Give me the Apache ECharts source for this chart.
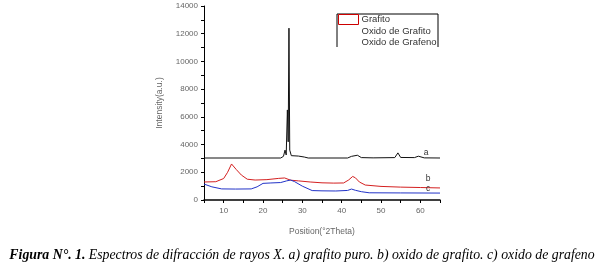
<!DOCTYPE html>
<html><head><meta charset="utf-8">
<script src="https://cdn.jsdelivr.net/npm/echarts@6/dist/echarts.min.js"></script>
<style>html,body{margin:0;padding:0;background:#fff}#c{width:604px;height:273px}</style>
</head><body><div id="c"></div>
<script>
const seriesNames = ['Grafito', 'Oxido de Grafito', 'Oxido de Grafeno'];
const curveLabels = ['a', 'b', 'c'];
const labelPos = [[61.5, 3450], [62, 1550], [62, 840]];
const grafito = [[5,3030],[24.5,3030],[25.2,3150],[25.6,3600],[25.9,3250],[26.2,6500],[26.4,4200],[26.6,12400],[26.8,3600],[27.2,3200],[29,3170],[30.5,3100],[31.5,3030],[41.5,3030],[42.5,3150],[44,3230],[45,3060],[48,3040],[53.5,3060],[54.3,3400],[55,3070],[58.5,3060],[59.5,3160],[61,3040],[65,3030]];
const oxidoGrafito = [[5,1300],[8,1320],[10,1550],[11,2000],[12,2600],[12.5,2740],[13.2,2200],[14.5,1800],[16,1500],[18,1440],[21,1470],[24,1560],[25.5,1590],[27,1430],[29,1380],[32,1300],[35,1240],[38,1220],[40.5,1230],[41.8,1450],[42.8,1700],[43.5,1600],[44.5,1300],[46,1080],[50,980],[55,930],[60,900],[65,870]];
const oxidoGrafeno = [[5,1150],[7,950],[9.5,800],[13,790],[17,800],[18.5,950],[20,1200],[22,1230],[24.5,1260],[26,1380],[27,1440],[28,1330],[30,1000],[32.5,680],[35,660],[38.5,650],[41.5,690],[42.5,790],[43.5,700],[45,600],[47,520],[55,510],[65,500]];
const xTicks = [10, 20, 30, 40, 50, 60];
const yTicks = [0, 2000, 4000, 6000, 8000, 10000, 12000, 14000];

const chart = echarts.init(document.getElementById('c'));
const txt = '#666';
const colors = ['#111', '#d42020', '#2233c8'];
const datasets = [grafito, oxidoGrafito, oxidoGrafeno];
chart.setOption({
  animation: false,
  backgroundColor: '#fff',
  grid: { left: 204, right: 164, top: 6, bottom: 73 },
  legend: {
    orient: 'vertical', left: 338, top: 14, itemGap: 1, itemWidth: 20, itemHeight: 10,
    padding: 0,
    textStyle: { fontFamily: 'Liberation Sans, Arial', fontSize: 9.5, color: '#333', padding: [0,0,0,-2] },
    data: [
      { name: seriesNames[0], icon: 'rect', itemStyle: { color: '#fff', borderColor: '#c00', borderWidth: 1 } },
      { name: seriesNames[1], icon: 'none' },
      { name: seriesNames[2], icon: 'none' }
    ]
  },
  graphic: [
    { type: 'polyline', shape: { points: [[337, 47], [337, 14], [438, 14], [438, 47]] }, style: { stroke: '#000', lineWidth: 1, fill: null } },
    { type: 'text', left: 'center', top: 248, style: { rich: {
        b: { fontFamily: 'Liberation Serif', fontStyle: 'italic', fontWeight: 'bold', fontSize: 13.8, fill: '#000' },
        n: { fontFamily: 'Liberation Serif', fontStyle: 'italic', fontSize: 13.8, fill: '#000' } },
        text: '{b|Figura N°. 1.} {n|Espectros de difracción de rayos X. a) grafito puro. b) oxido de grafito. c) oxido de grafeno}' } }
  ],
  xAxis: {
    type: 'value', min: 5, max: 65, interval: 5,
    name: 'Position(°2Theta)', nameLocation: 'middle', nameGap: 27,
    nameTextStyle: { fontFamily: 'Liberation Sans', fontSize: 8.5, color: txt },
    axisLine: { lineStyle: { color: '#000', width: 1.5 } },
    axisTick: { show: true, length: 3, lineStyle: { color: '#000' } },
    axisLabel: { fontFamily: 'Liberation Sans', fontSize: 8, color: txt, margin: 7,
      formatter: v => xTicks.includes(v) ? String(v) : '' },
    splitLine: { show: false }
  },
  yAxis: {
    type: 'value', min: 0, max: 14000, interval: 1000,
    name: 'Intensity(a.u.)', nameLocation: 'middle', nameGap: 40, nameRotate: 90,
    nameTextStyle: { fontFamily: 'Liberation Sans', fontSize: 8.5, color: txt },
    axisLine: { show: true, lineStyle: { color: '#000', width: 1 } },
    axisTick: { show: true, length: 3, lineStyle: { color: '#000' } },
    axisLabel: { fontFamily: 'Liberation Sans', fontSize: 8, color: txt, margin: 6,
      formatter: v => yTicks.includes(v) ? String(v) : '' },
    splitLine: { show: false }
  },
  series: datasets.map((d, i) => ({
    name: seriesNames[i], type: 'line', data: d, symbol: 'none',
    lineStyle: { color: colors[i], width: 1 }, itemStyle: { color: colors[i] },
    markPoint: { symbol: 'circle', symbolSize: 0, silent: true,
      data: [{ coord: labelPos[i], value: curveLabels[i] }],
      label: { show: true, formatter: curveLabels[i], fontFamily: 'Liberation Sans', fontSize: 8.5, color: '#333' } }
  }))
});
</script></body></html>
